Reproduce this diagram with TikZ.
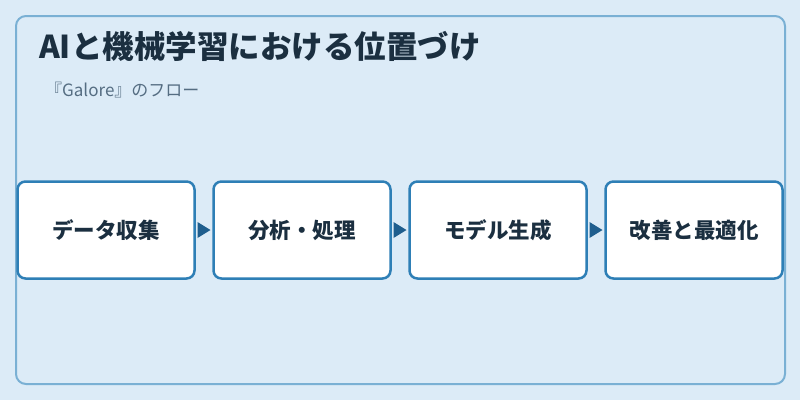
\documentclass[tikz,border=0pt]{standalone}
\usepackage{fontspec}
\setmainfont{Noto Sans CJK JP}
\definecolor{bgc}{HTML}{DCEBF7}
\definecolor{framec}{HTML}{7AB0D4}
\definecolor{boxc}{HTML}{2E7FB6}
\definecolor{arrc}{HTML}{1F5E8E}
\definecolor{titlec}{HTML}{1B2F40}
\definecolor{subc}{HTML}{556D82}
\begin{document}
\begin{tikzpicture}[x=1pt,y=-1pt,
  stepbox/.style={draw=boxc,line width=2.5pt,fill=white,rounded corners=8pt,
    minimum width=177pt,minimum height=97pt,inner sep=0pt,
    font=\fontsize{21.5pt}{25pt}\selectfont\bfseries,text=titlec}]
\useasboundingbox (0,0) rectangle (800,400);
\fill[bgc] (0,0) rectangle (800,400);
\draw[framec,line width=2pt,rounded corners=10pt] (16,16) rectangle (785,384);
\node[anchor=west,inner sep=0pt,text=titlec,font=\fontsize{31.5pt}{36pt}\selectfont\bfseries] (title) at (39,46) {AIと機械学習における位置づけ};
\node[anchor=west,inner sep=0pt,text=subc,font=\fontsize{17pt}{20pt}\selectfont] (sub) at (45,90) {『Galore』のフロー};
\node[stepbox] (b1) at (106,230) {データ収集};
\node[stepbox] (b2) at (302,230) {分析・処理};
\node[stepbox] (b3) at (498,230) {モデル生成};
\node[stepbox] (b4) at (694,230) {改善と最適化};
\path (b1.east) -- (b2.west) coordinate[pos=0.5] (m1);
\path (b2.east) -- (b3.west) coordinate[pos=0.5] (m2);
\path (b3.east) -- (b4.west) coordinate[pos=0.5] (m3);
\fill[arrc] ([xshift=-6.5pt,yshift=-8pt]m1) -- ([xshift=6.5pt]m1) -- ([xshift=-6.5pt,yshift=8pt]m1) -- cycle;
\fill[arrc] ([xshift=-6.5pt,yshift=-8pt]m2) -- ([xshift=6.5pt]m2) -- ([xshift=-6.5pt,yshift=8pt]m2) -- cycle;
\fill[arrc] ([xshift=-6.5pt,yshift=-8pt]m3) -- ([xshift=6.5pt]m3) -- ([xshift=-6.5pt,yshift=8pt]m3) -- cycle;
\end{tikzpicture}
\end{document}
